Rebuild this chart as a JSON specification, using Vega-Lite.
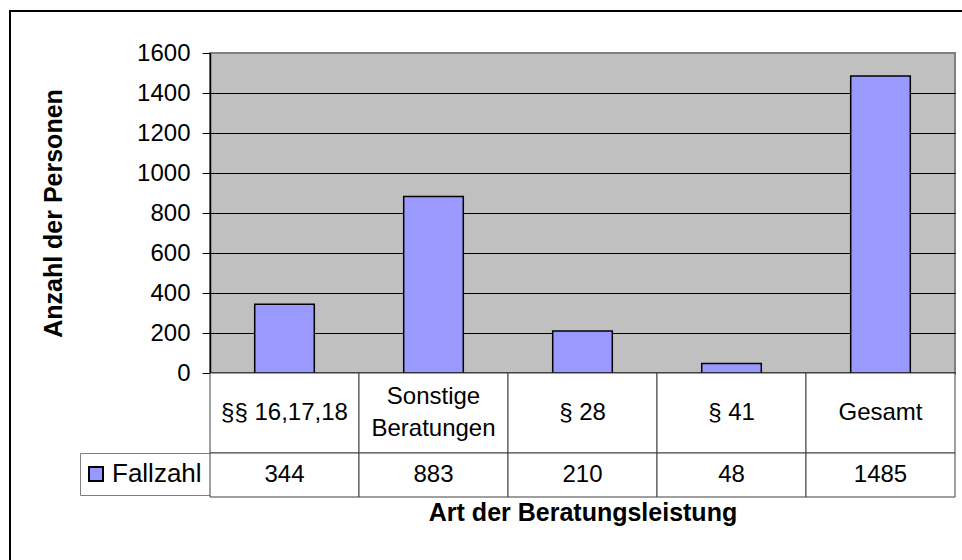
{
  "$schema": "https://vega.github.io/schema/vega-lite/v6.json",
  "padding": {"left": 9, "top": 10, "right": -1, "bottom": -1},
  "background": "white",
  "config": {
    "font": "Liberation Sans",
    "view": {"stroke": null},
    "text": {"color": "black"}
  },
  "datasets": {
    "cases": [
      {"kategorie": "§§ 16,17,18", "fallzahl": 344, "reihe": "Fallzahl"},
      {"kategorie": "Sonstige\nBeratungen", "fallzahl": 883, "reihe": "Fallzahl"},
      {"kategorie": "§ 28", "fallzahl": 210, "reihe": "Fallzahl"},
      {"kategorie": "§ 41", "fallzahl": 48, "reihe": "Fallzahl"},
      {"kategorie": "Gesamt", "fallzahl": 1485, "reihe": "Fallzahl"}
    ]
  },
  "bounds": "flush",
  "spacing": 0,
  "resolve": {"scale": {"color": "independent"}, "legend": {"color": "independent"}},
  "hconcat": [
    {
      "width": 200,
      "height": 549,
      "data": {"values": []},
      "mark": "point",
      "view": {"stroke": "black", "strokeWidth": 2, "fill": null, "strokeDash": [200, 749, 549]}
    },
    {
      "bounds": "flush",
      "spacing": 0,
      "resolve": {"scale": {"color": "independent"}, "legend": {"color": "independent"}},
      "vconcat": [
        {
          "width": 752,
          "height": 42,
          "data": {"values": []},
          "mark": "point",
          "view": {"stroke": "black", "strokeWidth": 2, "fill": null, "strokeDash": [752, 836]}
        },
        {
          "width": 745,
          "height": 320,
          "data": {"name": "cases"},
          "view": {"fill": "#C0C0C0", "stroke": "#808080", "strokeWidth": 2},
          "mark": {"type": "bar", "stroke": "black", "strokeWidth": 1.5},
          "encoding": {
            "x": {
              "field": "kategorie", "type": "nominal", "sort": null,
              "scale": {"paddingInner": 0.6, "paddingOuter": 0.3},
              "axis": {"labels": false, "ticks": false, "title": null, "grid": false, "domainColor": "black", "domainWidth": 2}
            },
            "y": {
              "field": "fallzahl", "type": "quantitative",
              "scale": {"domain": [0, 1600], "nice": false},
              "axis": {
                "values": [0, 200, 400, 600, 800, 1000, 1200, 1400, 1600],
                "format": "d",
                "grid": true,
                "gridColor": {"condition": {"test": "datum.value === 1600", "value": "#808080"}, "value": "black"},
                "gridOpacity": 1,
                "gridWidth": 1,
                "domainColor": "black",
                "domainWidth": 1.5,
                "tickColor": "black",
                "tickSize": 8,
                "tickWidth": 1,
                "labelFontSize": 24,
                "labelColor": "black",
                "labelPadding": 12,
                "title": "Anzahl der Personen",
                "titleFontSize": 25,
                "titleFontWeight": "bold",
                "titleColor": "black",
                "titlePadding": 70
              }
            },
            "color": {
              "field": "reihe", "type": "nominal",
              "scale": {"range": ["#9999FF"]},
              "legend": {
                "orient": "none",
                "legendX": -130,
                "legendY": 400,
                "title": null,
                "symbolType": "square",
                "symbolSize": 196,
                "symbolStrokeColor": "black",
                "symbolStrokeWidth": 2,
                "symbolOpacity": 1,
                "symbolOffset": -5,
                "labelFontSize": 26,
                "labelColor": "black",
                "labelOffset": 3,
                "padding": 8,
                "strokeColor": "#808080",
                "fillColor": "white"
              }
            }
          }
        },
        {
          "width": 745,
          "height": 80,
          "data": {"name": "cases"},
          "encoding": {
            "x": {"field": "kategorie", "type": "nominal", "sort": null, "scale": {"paddingInner": 0, "paddingOuter": 0}, "axis": null}
          },
          "layer": [
            {"mark": {"type": "rect", "fill": "white", "stroke": "#404040", "strokeWidth": 1}},
            {"transform": [{"filter": "indexof(datum.kategorie, '\\n') < 0"}],
             "mark": {"type": "text", "fontSize": 24, "color": "black"},
             "encoding": {"text": {"field": "kategorie"}}},
            {"transform": [{"filter": "indexof(datum.kategorie, '\\n') >= 0"}],
             "mark": {"type": "text", "fontSize": 24, "lineBreak": "\n", "lineHeight": 32, "dy": -16, "color": "black"},
             "encoding": {"text": {"field": "kategorie"}}}
          ]
        },
        {
          "width": 745,
          "height": 44,
          "data": {"name": "cases"},
          "encoding": {
            "x": {
              "field": "kategorie", "type": "nominal", "sort": null,
              "scale": {"paddingInner": 0, "paddingOuter": 0},
              "axis": {"labels": false, "ticks": false, "domain": false, "grid": false, "title": "Art der Beratungsleistung", "titleFontSize": 25, "titleFontWeight": "bold", "titleColor": "black", "titlePadding": 3}
            }
          },
          "layer": [
            {"mark": {"type": "rect", "fill": "white", "stroke": "#404040", "strokeWidth": 1}},
            {"mark": {"type": "text", "fontSize": 24, "color": "black"},
             "encoding": {"text": {"field": "fallzahl", "format": "d"}}}
          ]
        }
      ]
    }
  ]
}
